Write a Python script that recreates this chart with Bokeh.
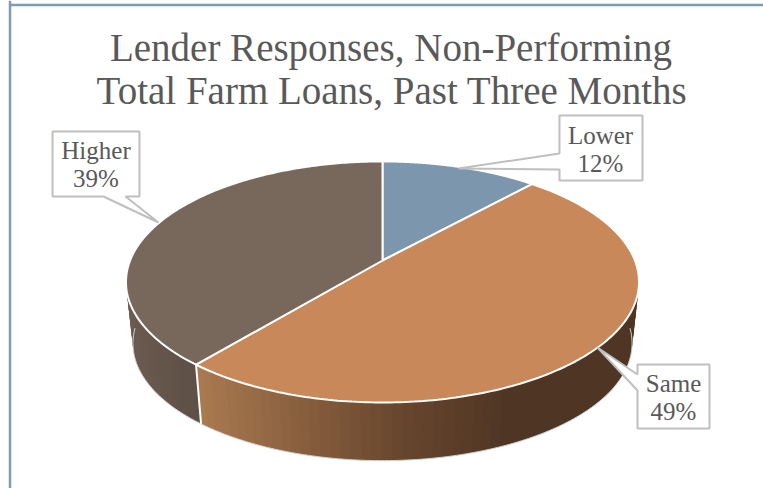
import numpy as np
from bokeh.plotting import figure
from bokeh.embed import file_html
from bokeh.resources import INLINE
from bokeh.core.properties import value

title_lines = ["Lender Responses, Non-Performing", "Total Farm Loans, Past Three Months"]
categories = ["Lower", "Same", "Higher"]
shares = [11.7, 49.3, 39.0]
top_colors = ["#7B96AD", "#C8885A", "#78685C"]

W, H = 763, 488
FONT = "Liberation Serif"
APEX = (382.0, 260.0)
A, B, K = 252.4, 116.7, 0.178
WALL_SCALE, WALL_DROP = 0.973, 62.0


def project(theta, lower=False):
    u, v = np.sin(theta), np.cos(theta)
    d = 1 + K * v
    X, Y = A * u / d, -B * v / d
    if lower:
        X, Y = X * WALL_SCALE, Y * WALL_SCALE + WALL_DROP
    return APEX[0] + X, APEX[1] + Y


def ramp(x, xs, colors):
    rgb = [int(round(np.interp(x, xs, [c[i] for c in colors]))) for i in range(3)]
    return "#%02x%02x%02x" % tuple(rgb)


p = figure(width=W, height=H, x_range=(0, W), y_range=(H, 0), output_backend="svg",
           toolbar_location=None, min_border=0, outline_line_color=None,
           background_fill_color="white", border_fill_color="white")
p.axis.visible = False
p.grid.visible = False
p.styles = {"position": "absolute", "left": "0px", "top": "0px"}

# report frame
p.line([9.5, 9.5], [0, H], line_color="#7F9AB5", line_width=2.5)
p.line([9.5, W], [4.5, 4.5], line_color="#7F9AB5", line_width=2.5)

edges = np.radians(np.cumsum([0] + shares) * 3.6)

wall_ramps = {
    "Same": ([200, 400, 510], [(170, 122, 80), (106, 71, 46), (79, 54, 36)]),
    "Higher": ([125, 200], [(107, 91, 81), (92, 78, 69)]),
}
xs_w, ys_w, cs_w = [], [], []
for i, name in enumerate(categories):
    if name not in wall_ramps:
        continue
    stops, cols = wall_ramps[name]
    ang = np.linspace(edges[i], edges[i + 1], 91)
    # each strip reaches over the next so that no seams show
    for j in range(len(ang) - 1, 0, -1) if name == "Same" else range(1, len(ang)):
        a0 = ang[j - 1]
        a1 = ang[min(j + 1, len(ang) - 1)]
        x0, y0 = project(a0)
        x1, y1 = project(a1)
        x2, y2 = project(a1, True)
        x3, y3 = project(a0, True)
        xs_w.append([x0, x1, x2, x3])
        ys_w.append([y0, y1, y2, y3])
        cs_w.append(ramp((x0 + x1) / 2, stops, cols))
p.patches(xs_w, ys_w, fill_color=cs_w, line_color=None)

# rim of the lower disc
rim = np.linspace(np.pi / 2 + 0.05, 3 * np.pi / 2 - 0.05, 200)
rx, ry = project(rim, True)
p.line(rx, ry, line_color="#D4D4D4", line_width=1)

# seam on the wall between Same and Higher
sx0, sy0 = project(edges[2])
sx1, sy1 = project(edges[2], True)
p.line([sx0, sx1], [sy0, sy1], line_color="white", line_width=2)

# top of the pie
for i, name in enumerate(categories):
    ang = np.linspace(edges[i], edges[i + 1], 200)
    ax, ay = project(ang)
    p.patch(np.r_[APEX[0], ax], np.r_[APEX[1], ay], fill_color=top_colors[i],
            line_color="white", line_width=2)

# callouts: category, outline, text centre
callouts = {
    "Higher": ([158, 125, 139, 139, 52, 52, 103], [222, 196, 196, 131, 131, 196, 196], 95.5, 150),
    "Lower": ([458, 559, 559, 642, 642, 559, 559], [168, 153, 115, 115, 180, 180, 169], 600, 135),
    "Same": ([597, 637, 637, 709, 709, 637, 637], [347, 374, 364, 364, 428, 428, 390], 673, 383),
}
for i, name in enumerate(categories):
    bx, by, tx, ty = callouts[name]
    p.patch(bx, by, fill_color="white", line_color="#BFBFBF", line_width=2)
    p.text([tx, tx], [ty, ty + 28], text=[name, f"{round(shares[i])}%"],
           text_font=value(FONT), text_font_size="25px", text_color="#595959",
           text_align="center", text_baseline="middle")

p.text([390.5, 391.5], [47, 90], text=title_lines, text_font=value(FONT),
       text_font_size="39px", text_color="#595959", text_align="center",
       text_baseline="alphabetic")

open("out.html", "w").write(file_html(p, INLINE))
